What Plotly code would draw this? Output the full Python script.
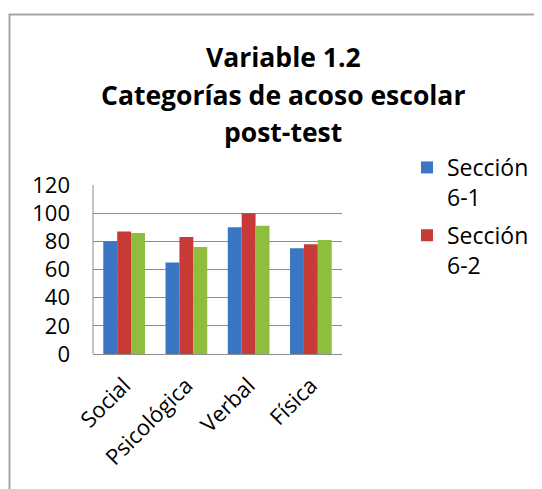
import plotly.graph_objects as go

categories = ["Social", "Psicológica", "Verbal", "Física"]
seccion_6_1 = [80, 65, 90, 75]
seccion_6_2 = [87, 83, 100, 78]
seccion_6_3 = [86, 76, 91, 81]

W, H = 542, 489
OFF = 8  # page body margin
# plot area in screen pixels
L, R, T, B = 93, 342, 185, 354

def px_x(px):
    return (px - L) / (R - L)

def px_y(py):
    return (B - py) / (B - T)

font = "Open Sans"

fig = go.Figure()
fig.add_trace(go.Bar(x=categories, y=seccion_6_1, name="Sección<br>6-1", legendgroup="g1",
                     marker=dict(color="#3a76c4", line=dict(width=0))))
fig.add_trace(go.Bar(x=categories, y=seccion_6_2, name="Sección<br>6-2", legendgroup="g2",
                     marker=dict(color="#c83a37", line=dict(width=0))))
fig.add_trace(go.Bar(x=categories, y=seccion_6_3, name="Sección 6-3", showlegend=False,
                     marker=dict(color="#8fbd3e", line=dict(width=0))))

fig.update_layout(
    width=W, height=H,
    margin=dict(l=L - OFF, r=W - (R - OFF), t=T - OFF, b=H - (B - OFF), autoexpand=False),
    paper_bgcolor="white", plot_bgcolor="white",
    barmode="group", bargap=0.33, bargroupgap=0,
    font=dict(family=font, size=22, color="black"),
    showlegend=True,
    legend=dict(x=px_x(407), y=px_y(146), xanchor="left", yanchor="top",
                font=dict(size=23), valign="top", tracegroupgap=5,
                itemwidth=30, bgcolor="rgba(0,0,0,0)"),
)

fig.update_yaxes(range=[0, 120], dtick=20, showgrid=True, gridcolor="#8c8c8c",
                 gridwidth=1, showline=False, zeroline=False,
                 tickfont=dict(size=22), ticks="", ticklabelstandoff=22)
fig.update_xaxes(showline=True, linecolor="#8c8c8c", linewidth=1, mirror=False,
                 tickangle=-45, tickfont=dict(size=22), ticks="", ticklabelstandoff=9)

# left edge of plot area
fig.add_shape(type="line", xref="paper", yref="paper", x0=0, x1=0, y0=0, y1=1,
              line=dict(color="#8c8c8c", width=1))

# outer frame
fig.add_shape(type="rect", xref="paper", yref="paper",
              x0=px_x(9.5), x1=px_x(600), y0=px_y(14.5), y1=px_y(600),
              line=dict(color="#a6a6a6", width=2), fillcolor="rgba(0,0,0,0)", layer="below")

titles = ["Variable 1.2", "Categorías de acoso escolar", "post-test"]
title_y = [57, 95, 132]
for t, ty in zip(titles, title_y):
    fig.add_annotation(text="<b>" + t + "</b>", xref="paper", yref="paper",
                       x=px_x(283), y=px_y(ty), xanchor="center", yanchor="middle",
                       showarrow=False, font=dict(size=26.5, family=font, color="black"))

fig.write_html("out.html")
